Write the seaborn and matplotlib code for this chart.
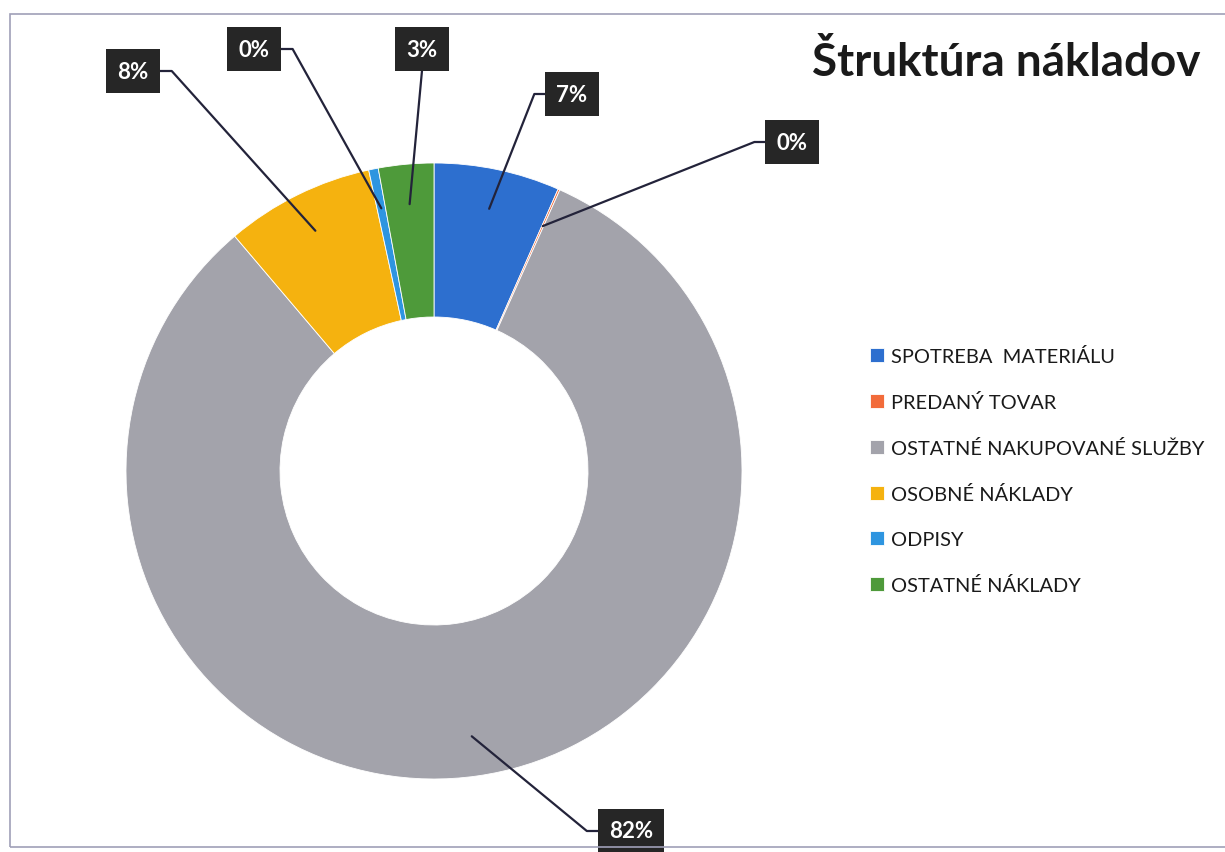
import numpy as np
import matplotlib.pyplot as plt
import seaborn as sns
from matplotlib.patches import Rectangle

# data
categories = ['SPOTREBA  MATERIÁLU', 'PREDANÝ TOVAR', 'OSTATNÉ NAKUPOVANÉ SLUŽBY',
              'OSOBNÉ NÁKLADY', 'ODPISY', 'OSTATNÉ NÁKLADY']
shares = [6.6, 0.1, 82.1, 7.8, 0.5, 2.9]
colors = ['#2D6FCF', '#F26B3A', '#A3A3AB', '#F5B20F', '#2E95E0', '#4E9A3A']
title = 'Štruktúra nákladov'

sns.set_theme(style='white')
plt.rcParams['font.family'] = ['Lato', 'DejaVu Sans']

W, H = 1225, 853
fig = plt.figure(figsize=(W / 100, H / 100), dpi=100)
ax = fig.add_axes([0, 0, 1, 1])

# donut in pixel coordinates
cx, cy, R = 434, H - 472, 308
wedges, _ = ax.pie(shares, colors=colors, startangle=90, counterclock=False,
                   radius=R, center=(cx, cy),
                   wedgeprops=dict(width=R * 0.5, edgecolor='white', linewidth=0.6))
ax.set_xlim(0, W)
ax.set_ylim(0, H)
ax.set_aspect('auto')
ax.axis('off')

# label boxes (centre in pixels from top-left) and where the leader line attaches
box_pos = [(572, 95), (792, 143), (631, 832), (133, 72), (254, 50), (422, 50)]
attach = ['left', 'left', 'left', 'right', 'right', 'bottom']

texts = []
for v, (bx, by) in zip(shares, box_pos):
    t = ax.text(bx, H - by, f'{round(v)}%', ha='center', va='center',
                fontsize=16, fontweight='bold', color='white', zorder=5,
                bbox=dict(boxstyle='square,pad=0.5', fc='#262626', ec='none'))
    texts.append(t)

fig.canvas.draw()
renderer = fig.canvas.get_renderer()
inv = ax.transData.inverted()
for w, t, side in zip(wedges, texts, attach):
    ang = np.deg2rad((w.theta1 + w.theta2) / 2)
    r0 = R * 0.87
    sx, sy = cx + r0 * np.cos(ang), cy + r0 * np.sin(ang)
    bb = t.get_bbox_patch().get_window_extent(renderer)
    (x0, y0), (x1, y1) = inv.transform([[bb.x0, bb.y0], [bb.x1, bb.y1]])
    ym = (y0 + y1) / 2
    if side == 'left':
        xs, ys = [sx, x0 - 11, x0], [sy, ym, ym]
    elif side == 'right':
        xs, ys = [sx, x1 + 12, x1], [sy, ym, ym]
    else:
        xs, ys = [sx, (x0 + x1) / 2], [sy, y0]
    ax.plot(xs, ys, color='#23233a', lw=1.6, zorder=4)

ax.legend(wedges, categories, loc='upper left',
          bbox_to_anchor=(852 / W, 1 - 330 / H), frameon=False,
          fontsize=14.4, handlelength=0.7, handleheight=0.7,
          handletextpad=0.33, labelspacing=1.4, labelcolor='#1a1a1a')

fig.text(1200 / W, 1 - 62 / H, title, ha='right', va='center',
         fontsize=33, fontweight='bold', color='#1a1a1a')

fig.add_artist(Rectangle((10 / W, (H - 848) / H), (1240 - 10) / W, (848 - 15) / H,
                         transform=fig.transFigure, fill=False,
                         ec='#a0a0b8', lw=1.2))

fig.savefig('out.png', dpi=100)
